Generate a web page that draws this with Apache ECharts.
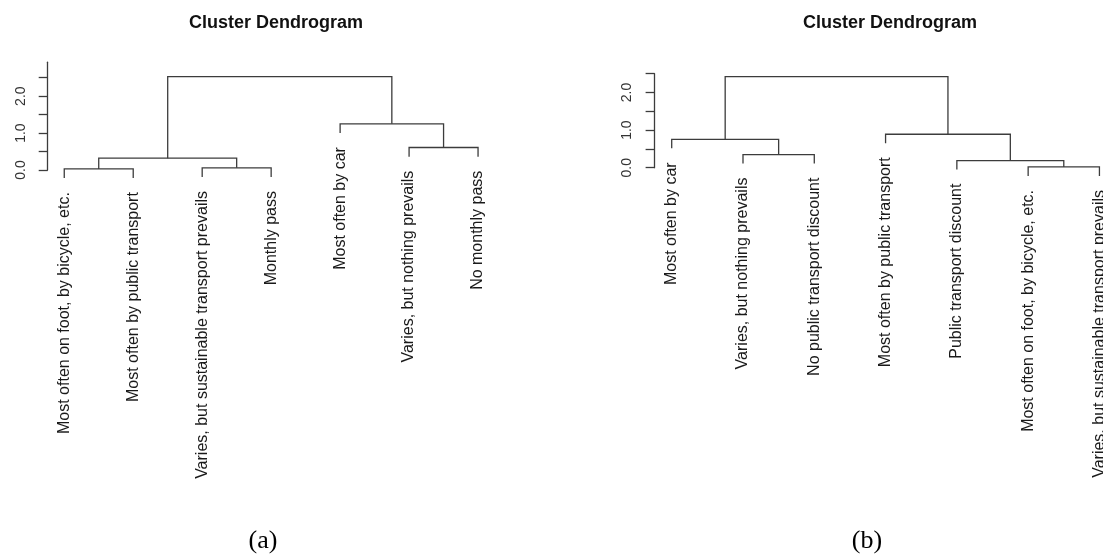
<!DOCTYPE html>
<html>
<head>
<meta charset="utf-8">
<script src="https://cdn.jsdelivr.net/npm/echarts@6/dist/echarts.min.js"></script>
<style>
  html, body { margin: 0; padding: 0; background: #fff; }
  #chart { width: 1103px; height: 560px; }
</style>
</head>
<body>
<div id="chart"></div>
<script>
// leaves in the order they are drawn, left to right
const leavesA = [
  "Most often on foot, by bicycle, etc.",
  "Most often by public transport",
  "Varies, but sustainable transport prevails",
  "Monthly pass",
  "Most often by car",
  "Varies, but nothing prevails",
  "No monthly pass"
];
// hclust style merges: negative = leaf position, positive = earlier merge
const mergeA = [[-1, -2], [-3, -4], [-6, -7], [1, 2], [-5, 3], [4, 5]];
const heightA = [0.03, 0.06, 0.61, 0.32, 1.25, 2.53];

const leavesB = [
  "Most often by car",
  "Varies, but nothing prevails",
  "No public transport discount",
  "Most often by public transport",
  "Public transport discount",
  "Most often on foot, by bicycle, etc.",
  "Varies, but sustainable transport prevails"
];
const mergeB = [[-6, -7], [-5, 1], [-2, -3], [-1, 3], [-4, 2], [4, 5]];
const heightB = [0.02, 0.19, 0.35, 0.755, 0.89, 2.42];

const yTicks = [0, 0.5, 1, 1.5, 2, 2.5];
const yLabels = [0, 1, 2];
const panelTags = ["(a)", "(b)"];
const chartTitle = "Cluster Dendrogram";

const lineColor = "#3c3c3c";
const textColor = "#1a1a1a";

// turn merges into U-shaped segments and leaf label anchors
function buildTree(merge, height, n) {
  const hang = 0.1 * (Math.max(...height) - Math.min(...height));
  const mx = [];
  const segs = [];
  const leafTop = new Array(n);
  merge.forEach((m, i) => {
    const h = height[i];
    const pts = m.map(c => {
      if (c < 0) {
        leafTop[-c - 1] = h - hang;
        return [-c, h - hang];
      }
      return [mx[c - 1], height[c - 1]];
    });
    mx[i] = (pts[0][0] + pts[1][0]) / 2;
    segs.push([pts[0][0], pts[0][1], pts[1][0], pts[1][1], h]);
  });
  const leafPts = leafTop.map((y, i) => [i + 1, y]);
  return { segs, leafPts };
}

const treeA = buildTree(mergeA, heightA, leavesA.length);
const treeB = buildTree(mergeB, heightB, leavesB.length);

function segRender(params, api) {
  const a = api.coord([api.value(0), api.value(1)]);
  const b = api.coord([api.value(0), api.value(4)]);
  const c = api.coord([api.value(2), api.value(4)]);
  const d = api.coord([api.value(2), api.value(3)]);
  return {
    type: "polyline",
    shape: { points: [a, b, c, d] },
    style: { stroke: lineColor, lineWidth: 1.3, fill: null }
  };
}

function labelRender(names) {
  return function (params, api) {
    const p = api.coord([api.value(0), api.value(1)]);
    return {
      type: "text",
      x: p[0],
      y: p[1] + 14,
      rotation: Math.PI / 2,
      style: {
        text: names[params.dataIndex],
        align: "right",
        verticalAlign: "middle",
        font: '16px "Liberation Sans", Arial, sans-serif',
        fill: textColor
      }
    };
  };
}

function yAxisFor(gi, max) {
  return {
    type: "value",
    gridIndex: gi,
    min: 0,
    max: max,
    interval: 0.5,
    splitLine: { show: false },
    axisLine: { show: true, lineStyle: { color: lineColor, width: 1.3 } },
    axisTick: { show: true, length: 9, customValues: yTicks, lineStyle: { color: lineColor, width: 1.3 } },
    axisLabel: {
      customValues: yLabels,
      formatter: v => v.toFixed(1),
      rotate: 90,
      margin: 20,
      fontSize: 14,
      fontFamily: "Liberation Sans",
      color: "#333"
    }
  };
}

const chart = echarts.init(document.getElementById("chart"));
chart.setOption({
  backgroundColor: "#fff",
  animation: false,
  title: [
    { text: chartTitle, left: 271, top: 9, textAlign: "center",
      textStyle: { fontSize: 18, fontWeight: "bold", fontFamily: "Liberation Sans", color: "#111" } },
    { text: chartTitle, left: 885, top: 9, textAlign: "center",
      textStyle: { fontSize: 18, fontWeight: "bold", fontFamily: "Liberation Sans", color: "#111" } },
    { text: panelTags[0], left: 258, top: 523, textAlign: "center",
      textStyle: { fontSize: 26, fontWeight: "normal", fontFamily: "Liberation Serif", color: "#000" } },
    { text: panelTags[1], left: 862, top: 523, textAlign: "center",
      textStyle: { fontSize: 26, fontWeight: "normal", fontFamily: "Liberation Serif", color: "#000" } }
  ],
  grid: [
    { left: 47.7, top: 62.2, width: 446.9, height: 107.8 },
    // right panel runs past the page edge, so the x range is cut instead
    { left: 654.6, top: 73.7, width: 448.4, height: 94 }
  ],
  xAxis: [
    { type: "value", gridIndex: 0, min: 0.76, max: 7.24, show: false },
    { type: "value", gridIndex: 1, min: 0.76, max: 7.05, show: false }
  ],
  yAxis: [yAxisFor(0, 2.92), yAxisFor(1, 2.5)],
  series: [
    { type: "custom", xAxisIndex: 0, yAxisIndex: 0, renderItem: segRender, data: treeA.segs },
    { type: "custom", xAxisIndex: 0, yAxisIndex: 0, renderItem: labelRender(leavesA), data: treeA.leafPts },
    { type: "custom", xAxisIndex: 1, yAxisIndex: 1, renderItem: segRender, data: treeB.segs },
    { type: "custom", xAxisIndex: 1, yAxisIndex: 1, renderItem: labelRender(leavesB), data: treeB.leafPts }
  ]
});
</script>
</body>
</html>
